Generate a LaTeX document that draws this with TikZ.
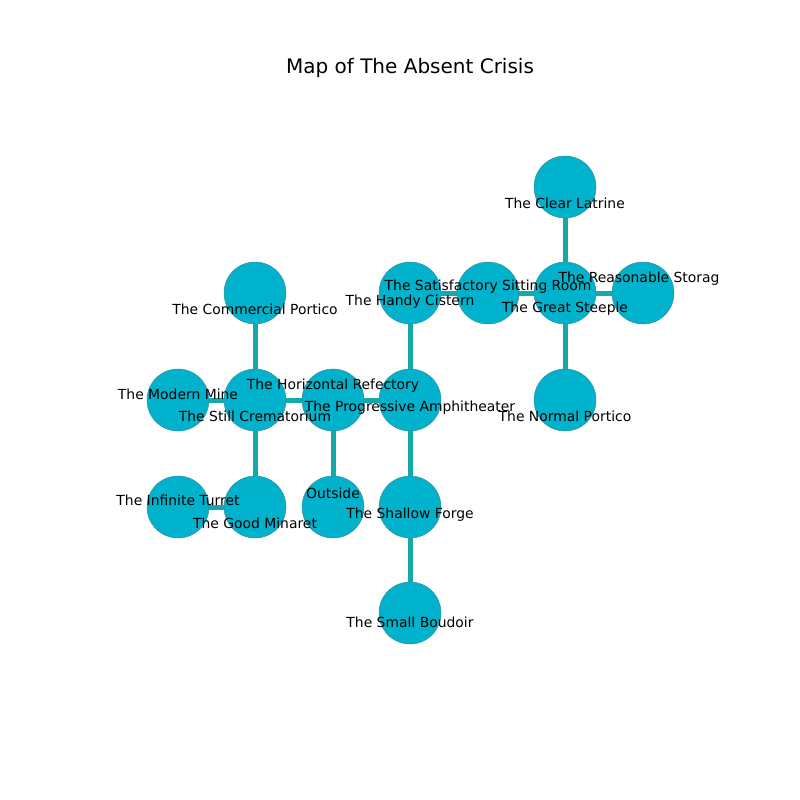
\documentclass[tikz,border=0pt]{standalone}
\usepackage{fontspec}
\setmainfont{DejaVu Sans}
\definecolor{nodefill}{HTML}{00B2CB}
\definecolor{nodeline}{HTML}{3A8C9C}
\definecolor{edgecol}{HTML}{14A9AA}
\begin{document}
\begin{tikzpicture}[x=1pt,y=-1pt,
  room/.style={circle,fill=nodefill,draw=nodeline,line width=0.5pt,minimum size=62pt,inner sep=0pt},
  link/.style={draw=edgecol,line width=5pt},
  lab/.style={font=\fontsize{13.9}{16}\selectfont,inner sep=0pt,text=black,yshift=-2pt}]
\useasboundingbox (0,0) rectangle (800,800);
\node[font=\fontsize{20}{24}\selectfont] (title) at (410,68) {Map of The Absent Crisis};
% rooms
\coordinate (pCL) at (565,187);
\coordinate (pCP) at (255,293);
\coordinate (pHC) at (410,293);
\coordinate (pSS) at (488,293);
\coordinate (pGS) at (565,293);
\coordinate (pRS) at (643,293);
\coordinate (pMM) at (178,400);
\coordinate (pSC) at (255,400);
\coordinate (pHR) at (333,400);
\coordinate (pPA) at (410,400);
\coordinate (pNP) at (565,400);
\coordinate (pIT) at (178,507);
\coordinate (pGM) at (255,507);
\coordinate (pOU) at (333,507);
\coordinate (pSF) at (410,507);
\coordinate (pSB) at (410,613);
% edges first (below)
\draw[link] (pCL) -- (pGS);
\draw[link] (pCP) -- (pSC);
\draw[link] (pHC) -- (pSS);
\draw[link] (pSS) -- (pGS);
\draw[link] (pGS) -- (pRS);
\draw[link] (pGS) -- (pNP);
\draw[link] (pHC) -- (pPA);
\draw[link] (pMM) -- (pSC);
\draw[link] (pSC) -- (pHR);
\draw[link] (pHR) -- (pPA);
\draw[link] (pSC) -- (pGM);
\draw[link] (pHR) -- (pOU);
\draw[link] (pPA) -- (pSF);
\draw[link] (pIT) -- (pGM);
\draw[link] (pSF) -- (pSB);
% circles
\foreach \p in {CL,CP,HC,SS,GS,RS,MM,SC,HR,PA,NP,IT,GM,OU,SF,SB}
  \node[room] (n\p) at (p\p) {};
% labels
\node[lab] (lCL) at (565,201) {The Clear Latrine};
\node[lab] (lCP) at (255,307) {The Commercial Portico};
\node[lab] (lHC) at (410,300) {The Handy Cistern};
\node[lab] (lSS) at (488,285) {The Satisfactory Sitting Room};
\node[lab] (lGS) at (565,307) {The Great Steeple};
\node[lab] (lRS) at (639,277) {The Reasonable Storag};
\node[lab] (lMM) at (178,392) {The Modern Mine};
\node[lab] (lSC) at (255,414) {The Still Crematorium};
\node[lab] (lHR) at (333,384) {The Horizontal Refectory};
\node[lab] (lPA) at (410,406) {The Progressive Amphitheater};
\node[lab] (lNP) at (565,414) {The Normal Portico};
\node[lab] (lIT) at (178,498) {The Infinite Turret};
\node[lab] (lGM) at (255,521) {The Good Minaret};
\node[lab] (lOU) at (333,491) {Outside};
\node[lab] (lSF) at (410,513) {The Shallow Forge};
\node[lab] (lSB) at (410,620) {The Small Boudoir};
\end{tikzpicture}
\end{document}
